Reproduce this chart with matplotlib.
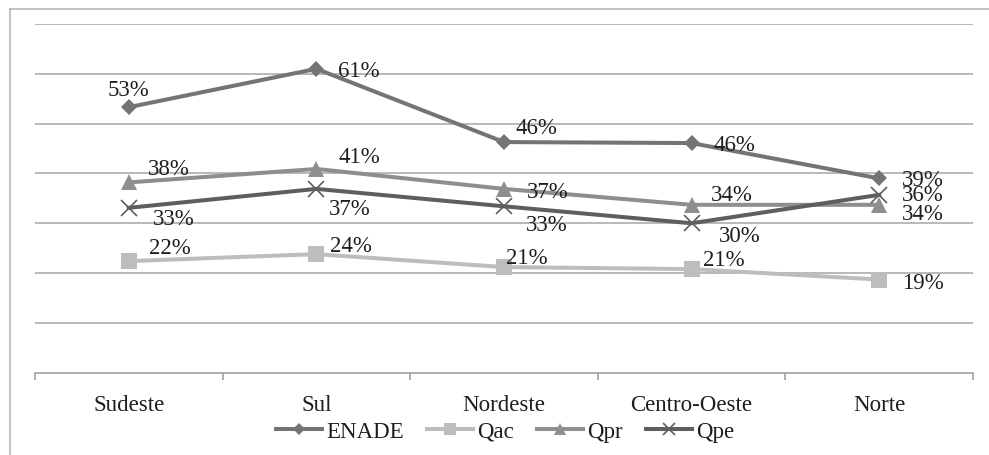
import matplotlib
matplotlib.use("Agg")
import matplotlib.pyplot as plt
from matplotlib.lines import Line2D

categories = ["Sudeste", "Sul", "Nordeste", "Centro-Oeste", "Norte"]
series_names = ["ENADE", "Qac", "Qpr", "Qpe"]
enade = [0.533, 0.610, 0.463, 0.461, 0.390]
qac = [0.224, 0.238, 0.212, 0.208, 0.187]
qpr = [0.382, 0.409, 0.369, 0.337, 0.337]
qpe = [0.331, 0.369, 0.334, 0.300, 0.357]

# styles
colors = ["#747474", "#bdbdbd", "#8e8e8e", "#5e5e5e"]
markers = ["D", "s", "^", "x"]
msizes = [8, 12, 12, 11]
# label offsets in pixels (dx, dy), ha
offsets = [
    [(0, 18, "center"), (22, -2, "left"), (11, 15, "left"), (22, -1, "left"), (23, -1, "left")],
    [(20, 14, "left"), (14, 9, "left"), (2, 10, "left"), (11, 10, "left"), (23, -3, "left")],
    [(19, 14, "left"), (22, 12, "left"), (23, -3, "left"), (19, 10, "left"), (23, -9, "left")],
    [(24, -11, "left"), (12, -20, "left"), (22, -18, "left"), (27, -12, "left"), (23, 0, "left")],
]

W, H = 989, 456
fig = plt.figure(figsize=(W / 100, H / 100), dpi=100)
plt.rcParams["font.family"] = ["Liberation Serif", "DejaVu Serif"]

ax = fig.add_axes([35 / W, 1 - 373.7 / H, (973 - 35) / W, (373.7 - 25) / H])
ax.set_xlim(-0.5, 4.5)
ax.set_ylim(0, 0.7)

for y in [0.1, 0.2, 0.3, 0.4, 0.5, 0.6, 0.7]:
    ax.axhline(y, color="#a6a6a6", lw=1.1, zorder=1)

x = list(range(len(categories)))
all_series = [enade, qac, qpr, qpe]
for i, (name, vals) in enumerate(zip(series_names, all_series)):
    mew = 1.2 if markers[i] == "x" else 0
    ax.plot(x, vals, color=colors[i], lw=2.9, marker=markers[i], ms=msizes[i],
            mew=mew, mec=colors[i], mfc=colors[i], label=name, zorder=3 + i, clip_on=False)
    for j, v in enumerate(vals):
        dx, dy, ha = offsets[i][j]
        ax.annotate(f"{round(v * 100):d}%", (j, v), xytext=(dx, dy), textcoords="offset pixels",
                    ha=ha, va="center", fontsize=16.5, color="#1e1e1e", zorder=10)

for s in ["top", "right", "left"]:
    ax.spines[s].set_visible(False)
ax.spines["bottom"].set_color("#9a9a9a")
ax.spines["bottom"].set_linewidth(1.1)
ax.set_yticks([])
ax.set_xticks(x)
ax.set_xticklabels(categories, fontsize=16.5, color="#1e1e1e")
ax.tick_params(axis="x", which="major", length=0, pad=15)
ax.set_xticks([-0.5, 0.5, 1.5, 2.5, 3.5, 4.5], minor=True)
ax.tick_params(axis="x", which="minor", length=5, width=1.1, color="#9a9a9a", direction="out")

leg = fig.legend(loc="center", bbox_to_anchor=(505 / W, 1 - 432 / H), ncol=4, frameon=False,
                 fontsize=16.5, handlelength=2.0, handletextpad=0.2, columnspacing=1.0,
                 markerscale=0.75, borderaxespad=0, borderpad=0)
for t in leg.get_texts():
    t.set_color("#1e1e1e")

# outer frame (cut at right and bottom)
fig.add_artist(Line2D([9.5 / W, 1.0], [1 - 9.5 / H, 1 - 9.5 / H], transform=fig.transFigure,
                      color="#b0b0b0", lw=1.1))
fig.add_artist(Line2D([9.5 / W, 9.5 / W], [0, 1 - 9.5 / H], transform=fig.transFigure,
                      color="#b0b0b0", lw=1.1))

fig.savefig("out.png", dpi=100, facecolor="white")
